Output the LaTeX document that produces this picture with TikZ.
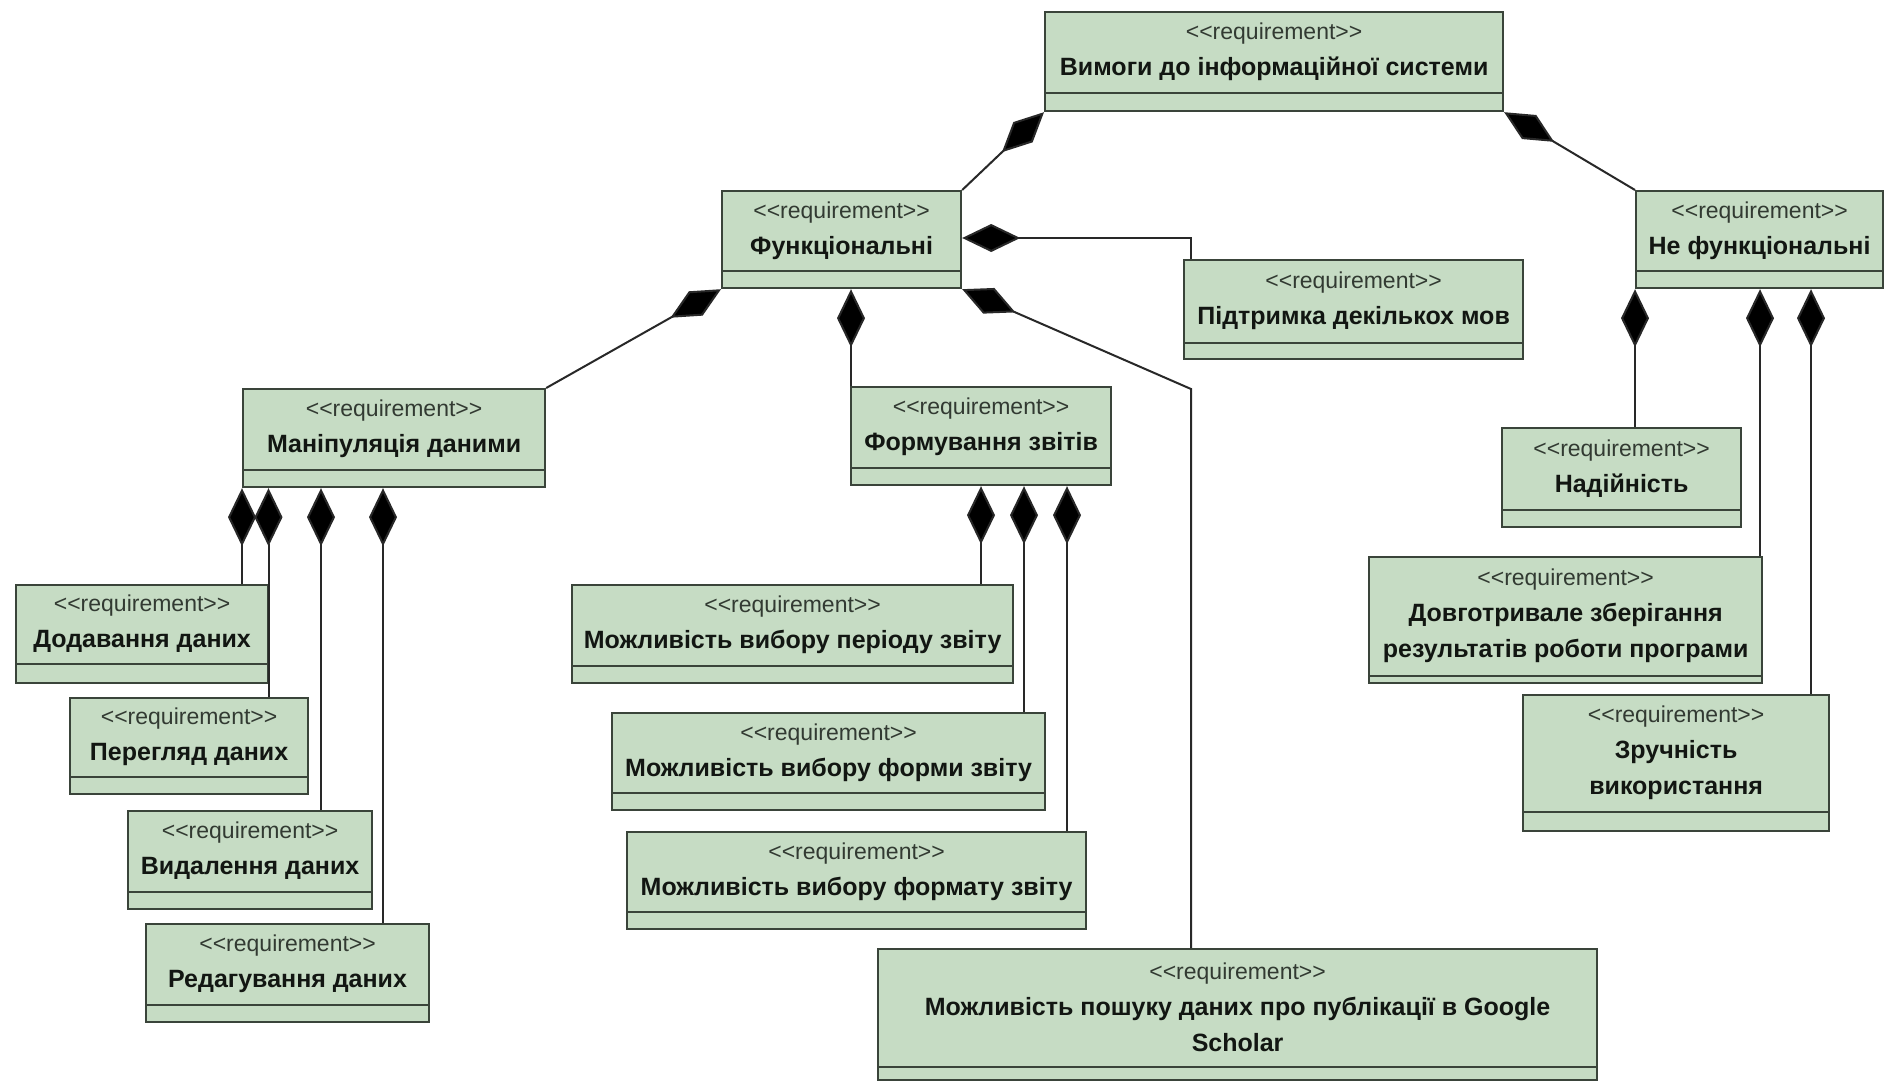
\documentclass[tikz,border=0pt]{standalone}
\usepackage{fontspec}
\setmainfont{Liberation Sans}
\usetikzlibrary{arrows.meta,calc}
\definecolor{boxfill}{RGB}{198,220,196}
\definecolor{boxdraw}{RGB}{58,68,58}
\definecolor{linec}{RGB}{40,40,40}
\definecolor{stc}{RGB}{50,58,50}
\definecolor{namec}{RGB}{18,22,18}
\tikzset{
  reqshape/.style={draw=boxdraw, fill=boxfill, line width=2.2pt, rectangle, inner sep=0pt},
  sepline/.style={draw=boxdraw, line width=2pt},
  reqtext/.style={align=center, inner sep=0pt, text=namec, font=\fontsize{25}{36}\selectfont\bfseries},
  comp/.style={draw=linec, line width=2pt, {Diamond[length=58pt,width=28pt,fill=black]}-},
}
\newcommand\stereo{{\fontsize{23}{36}\selectfont\mdseries\color{stc}<{}<requirement>{}>}}
% name, x1, y1, x2, y2, lower compartment height, text
\newcommand\reqbox[7]{%
  \pgfmathsetmacro\bw{#4-#2}%
  \pgfmathsetmacro\bh{#5-#3}%
  \node[reqshape, minimum width=\bw pt, minimum height=\bh pt, anchor=north west] (#1) at (#2,#3) {};
  \draw[sepline] ($(#1.south west)+(0,-#6)$) -- ($(#1.south east)+(0,-#6)$);
  \node[reqtext] (#1-t) at ($(#1.north)!0.5!(#1.south)+(0,-#6/2)$) {\stereo\\#7};
}
\begin{document}
\begin{tikzpicture}[x=1pt,y=-1pt]
\fill[white] (0,0) rectangle (1896,1081);
\useasboundingbox (0,0) rectangle (1896,1081);

\reqbox{root}{1044}{11}{1502}{110}{19}{Вимоги до інформаційної системи}
\reqbox{fun}{721}{190}{960}{287}{18}{Функціональні}
\reqbox{nf}{1635}{190}{1882}{287}{18}{Не функціональні}
\reqbox{sup}{1183}{259}{1522}{358}{17}{Підтримка декількох мов}
\reqbox{man}{242}{388}{544}{486}{18}{Маніпуляція даними}
\reqbox{form}{850}{386}{1110}{484}{18}{Формування звітів}
\reqbox{rel}{1501}{427}{1740}{526}{18}{Надійність}
\reqbox{store}{1368}{556}{1761}{682}{8}{Довготривале зберігання\\результатів роботи програми}
\reqbox{use}{1522}{694}{1828}{830}{20}{Зручність\\використання}
\reqbox{add}{15}{584}{267}{682}{20}{Додавання даних}
\reqbox{view}{69}{697}{307}{793}{18}{Перегляд даних}
\reqbox{del}{127}{810}{371}{908}{18}{Видалення даних}
\reqbox{edit}{145}{923}{428}{1021}{18}{Редагування даних}
\reqbox{per}{571}{584}{1012}{682}{18}{Можливість вибору періоду звіту}
\reqbox{frm}{611}{712}{1044}{809}{18}{Можливість вибору форми звіту}
\reqbox{fmt}{626}{831}{1085}{928}{18}{Можливість вибору формату звіту}
\reqbox{srch}{877}{948}{1596}{1079}{14}{Можливість пошуку даних про публікації в Google\\Scholar}

% x positions of vertical connectors
\coordinate (xm1) at (242,0);
\coordinate (xm2) at (268.5,0);
\coordinate (xm3) at (321,0);
\coordinate (xm4) at (383,0);
\coordinate (xf0) at (851,0);
\coordinate (xf1) at (981,0);
\coordinate (xf2) at (1024,0);
\coordinate (xf3) at (1067,0);
\coordinate (xn1) at (1635,0);
\coordinate (xn2) at (1760,0);
\coordinate (xn3) at (1811,0);
\coordinate (xs) at (1191,0);
\coordinate (bend) at (1191,389);
\coordinate (ysup) at (0,238);

% top level
\draw[comp] (root.south west) -- (fun.north east);
\draw[comp] (root.south east) -- (nf.north west);

% functional
\draw[comp] (fun.south west) -- (man.north east);
\draw[comp] (fun.east |- ysup) -- (xs |- ysup) -- (xs |- sup.north);
\draw[comp] (xf0 |- fun.south) -- (xf0 |- form.north);
\draw[comp] (fun.south east) -- (bend) -- (bend |- srch.north);

% data manipulation
\draw[comp] (xm1 |- man.south) -- (xm1 |- add.north);
\draw[comp] (xm2 |- man.south) -- (xm2 |- view.north);
\draw[comp] (xm3 |- man.south) -- (xm3 |- del.north);
\draw[comp] (xm4 |- man.south) -- (xm4 |- edit.north);

% reports
\draw[comp] (xf1 |- form.south) -- (xf1 |- per.north);
\draw[comp] (xf2 |- form.south) -- (xf2 |- frm.north);
\draw[comp] (xf3 |- form.south) -- (xf3 |- fmt.north);

% non-functional
\draw[comp] (xn1 |- nf.south) -- (xn1 |- rel.north);
\draw[comp] (xn2 |- nf.south) -- (xn2 |- store.north);
\draw[comp] (xn3 |- nf.south) -- (xn3 |- use.north);
\end{tikzpicture}
\end{document}
